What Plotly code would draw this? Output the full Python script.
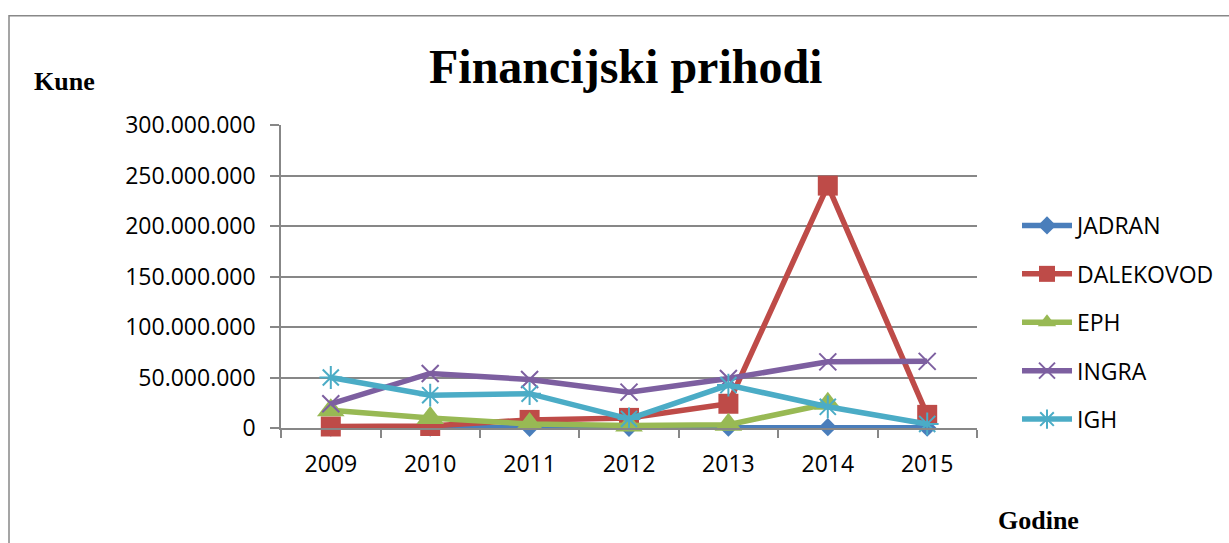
import plotly.graph_objects as go

# ---------------- data ----------------
years = ["2009", "2010", "2011", "2012", "2013", "2014", "2015"]
jadran = [300000, 300000, 200000, 200000, 300000, 800000, 300000]
dalekovod = [1500000, 2000000, 8000000, 10000000, 24000000, 240000000, 13000000]
eph = [17500000, 10000000, 4000000, 2500000, 3300000, 24000000, None]
ingra = [24000000, 54000000, 48000000, 35500000, 49000000, 65500000, 66000000]
igh = [50000000, 32500000, 34000000, 9000000, 42500000, 21000000, 4000000]
y_ticks = [0, 50000000, 100000000, 150000000, 200000000, 250000000, 300000000]

series_names = ["JADRAN", "DALEKOVOD", "EPH", "INGRA", "IGH"]
series_values = [jadran, dalekovod, eph, ingra, igh]

# ---------------- style ----------------
colors = ["#4A7EBB", "#BE4B48", "#98B954", "#7D5FA0", "#4BACC6"]
symbols = ["diamond", "square", "triangle-up", "x-thin-open", "asterisk-open"]
sizes = [14, 20, 24, 17, 19]

W, H = 1229, 543
L, R, T, B = 281, 252, 125, 115
PW, PH = W - L - R, H - T - B


def px(x):
    return (x - L) / PW


def py(y):
    return (H - B - y) / PH


fig = go.Figure()
for i, (name, vals) in enumerate(zip(series_names, series_values)):
    open_sym = symbols[i].endswith("open")
    fig.add_trace(go.Scatter(
        x=years, y=vals, name=name, mode="lines+markers",
        line=dict(color=colors[i], width=5.5),
        marker=dict(symbol=symbols[i], size=sizes[i], color=colors[i],
                    line=dict(color=colors[i], width=2 if open_sym else 0)),
        cliponaxis=False, legendgroup=name,
    ))

grid = "#878787"
fig.update_layout(
    width=W, height=H,
    margin=dict(l=L, r=R, t=T, b=B, pad=0, autoexpand=False),
    paper_bgcolor="white", plot_bgcolor="white",
    separators=",.",
    font=dict(family="Open Sans", size=23, color="black"),
    showlegend=True,
    legend=dict(x=px(1017), y=py(204), xanchor="left", yanchor="top",
                traceorder="grouped", tracegroupgap=15.5, itemwidth=50,
                font=dict(family="Open Sans", size=23, color="black"),
                bgcolor="rgba(0,0,0,0)"),
    xaxis=dict(type="category", showgrid=False, showline=True, linecolor=grid, linewidth=1.5,
               ticks="outside", tickson="boundaries", ticklen=8, tickcolor=grid, tickwidth=1.5,
               ticklabelstandoff=15, tickfont=dict(family="Open Sans", size=23),
               zeroline=False),
    yaxis=dict(range=[0, 300000000], tickvals=y_ticks, tickformat=",d",
               showgrid=True, gridcolor=grid, gridwidth=1.5,
               showline=True, linecolor=grid, linewidth=1.5,
               ticks="outside", ticklen=9, tickcolor=grid, tickwidth=1.5,
               ticklabelstandoff=10, tickfont=dict(family="Open Sans", size=23),
               zeroline=False),
    shapes=[dict(type="rect", xref="paper", yref="paper",
                 x0=px(9), x1=px(1300), y0=py(15.8), y1=py(600),
                 line=dict(color="#888888", width=1.5), fillcolor="rgba(0,0,0,0)", layer="below")],
    annotations=[
        dict(text="<b>Financijski prihodi</b>", xref="paper", yref="paper",
             x=px(625), y=py(66), xanchor="center", yanchor="middle", showarrow=False,
             font=dict(family="Liberation Serif", size=48, color="black")),
        dict(text="<b>Kune</b>", xref="paper", yref="paper",
             x=px(32), y=py(82), xanchor="left", yanchor="middle", showarrow=False,
             font=dict(family="Liberation Serif", size=26, color="black")),
        dict(text="<b>Godine</b>", xref="paper", yref="paper",
             x=px(996), y=py(520), xanchor="left", yanchor="middle", showarrow=False,
             font=dict(family="Liberation Serif", size=26, color="black")),
    ],
)

fig.write_html("out.html", config={"displayModeBar": False},
               post_script="document.body.style.margin='0';document.body.style.overflow='hidden';")
